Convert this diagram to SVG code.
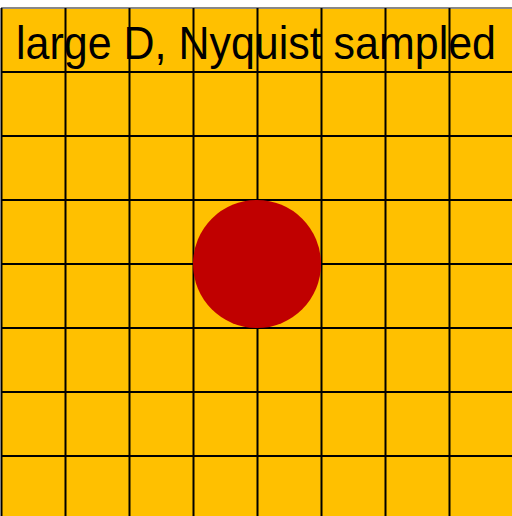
<svg xmlns="http://www.w3.org/2000/svg" width="512" height="516" viewBox="0 0 512 516">
<style>
.g{stroke:#000;stroke-width:2;fill:none}
.t{font-family:"Liberation Sans",Arial,sans-serif;font-size:46px;fill:#000}
</style>
<rect x="0" y="0" width="512" height="516" fill="#fff"/>
<rect x="1" y="8" width="511" height="508" fill="#FFC000"/>
<g id="grid" class="g">
<line x1="1" y1="8" x2="512" y2="8" stroke="#888"/>
<line x1="1.5" y1="8" x2="1.5" y2="516"/>
<line x1="65.5" y1="8" x2="65.5" y2="516"/>
<line x1="129.5" y1="8" x2="129.5" y2="516"/>
<line x1="193.5" y1="8" x2="193.5" y2="516"/>
<line x1="257.5" y1="8" x2="257.5" y2="516"/>
<line x1="321.5" y1="8" x2="321.5" y2="516"/>
<line x1="385.5" y1="8" x2="385.5" y2="516"/>
<line x1="449.5" y1="8" x2="449.5" y2="516"/>
<line x1="1" y1="72" x2="512" y2="72"/>
<line x1="1" y1="136" x2="512" y2="136"/>
<line x1="1" y1="200" x2="512" y2="200"/>
<line x1="1" y1="264" x2="512" y2="264"/>
<line x1="1" y1="328" x2="512" y2="328"/>
<line x1="1" y1="392" x2="512" y2="392"/>
<line x1="1" y1="456" x2="512" y2="456"/>
</g>
<g id="spot"><circle cx="257" cy="264" r="64" fill="#C00000"/></g>
<g id="title"><text class="t" x="16" y="59" textLength="480" lengthAdjust="spacingAndGlyphs">large D, Nyquist sampled</text></g>
</svg>
